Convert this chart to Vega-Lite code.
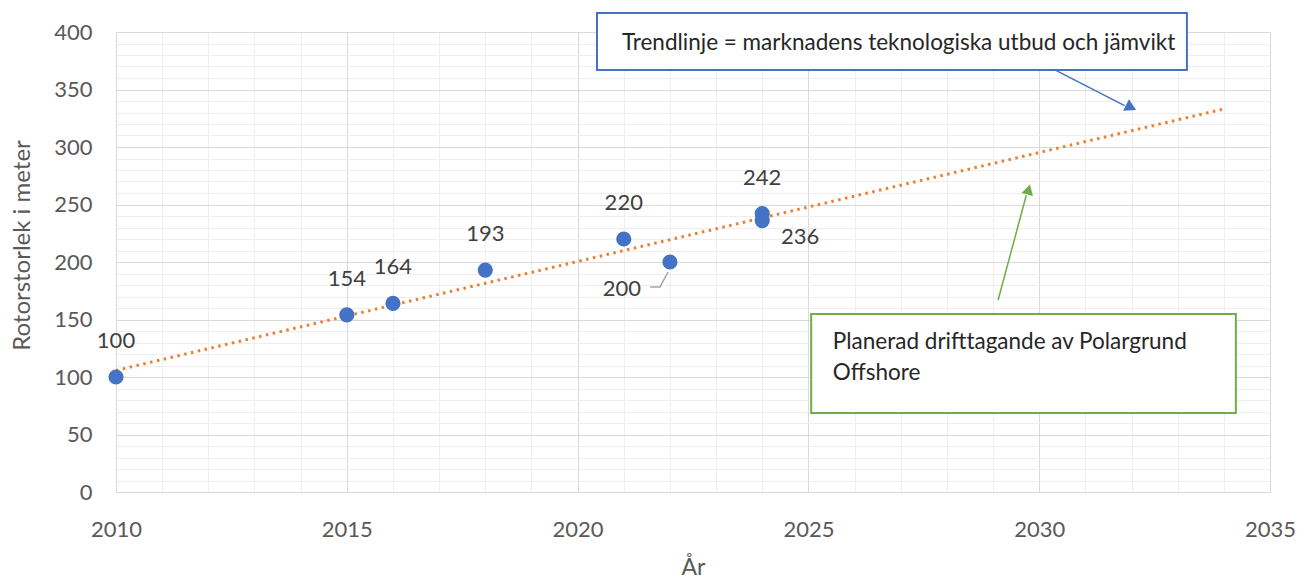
{
  "$schema": "https://vega.github.io/schema/vega-lite/v6.json",
  "width": 1154,
  "height": 460,
  "autosize": {"type": "none"},
  "padding": {"left": 116, "top": 32, "right": 30, "bottom": 90},
  "config": {"view": {"stroke": null}, "font": "Lato", "background": "white"},
  "datasets": {
    "pts": [
      {"year": 2010, "size": 100, "label": "100", "pos": "above"},
      {"year": 2015, "size": 154, "label": "154", "pos": "above"},
      {"year": 2016, "size": 164, "label": "164", "pos": "above"},
      {"year": 2018, "size": 193, "label": "193", "pos": "above"},
      {"year": 2021, "size": 220, "label": "220", "pos": "above"},
      {"year": 2022, "size": 200, "label": "200", "pos": "leftbelow"},
      {"year": 2024, "size": 242, "label": "242", "pos": "above"},
      {"year": 2024, "size": 236, "label": "236", "pos": "rightbelow"}
    ],
    "trend": [
      {"year": 2010, "size": 105.7},
      {"year": 2034, "size": 333.1}
    ],
    "boxes": [
      {"x1": 2020.42, "x2": 2033.2, "y1": 367, "y2": 416.5, "box": "blue"},
      {"x1": 2025.06, "x2": 2034.26, "y1": 68.7, "y2": 154.8, "box": "green"}
    ],
    "lines": [
      {"year": 2030.34, "size": 367, "line": "blue"},
      {"year": 2031.85, "size": 336, "line": "blue"},
      {"year": 2029.11, "size": 167, "line": "green"},
      {"year": 2029.72, "size": 258, "line": "green"},
      {"year": 2021.57, "size": 178.3, "line": "leader"},
      {"year": 2021.785, "size": 178.3, "line": "leader"},
      {"year": 2021.96, "size": 191.3, "line": "leader"}
    ],
    "heads": [
      {"year": 2031.99, "size": 334.3, "head": "blue"},
      {"year": 2029.77, "size": 263, "head": "green"}
    ],
    "notes": [
      {"year": 2020.96, "size": 390.4, "text": "Trendlinje = marknadens teknologiska utbud och jämvikt"},
      {"year": 2025.53, "size": 130.4, "text": "Planerad drifttagande av Polargrund"},
      {"year": 2025.53, "size": 103.5, "text": "Offshore"}
    ]
  },
  "resolve": {"axis": {"x": "independent", "y": "independent"}},
  "layer": [
    {
      "data": {"name": "pts"},
      "mark": {"type": "point", "opacity": 0},
      "encoding": {
        "x": {"field": "year", "type": "quantitative", "scale": {"domain": [2010, 2035], "nice": false, "zero": false},
          "axis": {"orient": "bottom", "values": [2010,2011,2012,2013,2014,2015,2016,2017,2018,2019,2020,2021,2022,2023,2024,2025,2026,2027,2028,2029,2030,2031,2032,2033,2034,2035],
            "grid": true, "gridColor": "#eeeeee", "gridWidth": 1, "labels": false, "ticks": false, "domain": false, "title": null}},
        "y": {"field": "size", "type": "quantitative", "scale": {"domain": [0, 400], "nice": false},
          "axis": {"orient": "left", "values": [0,10,20,30,40,50,60,70,80,90,100,110,120,130,140,150,160,170,180,190,200,210,220,230,240,250,260,270,280,290,300,310,320,330,340,350,360,370,380,390,400],
            "grid": true, "gridColor": "#eeeeee", "gridWidth": 1, "labels": false, "ticks": false, "domain": false, "title": null}}
      }
    },
    {
      "data": {"name": "trend"},
      "mark": {"type": "line", "color": "#ED7D31", "strokeWidth": 3, "strokeDash": [2.5, 4.5]},
      "encoding": {
        "x": {"field": "year", "type": "quantitative",
          "axis": {"orient": "bottom", "values": [2010, 2015, 2020, 2025, 2030, 2035], "format": "d", "grid": true, "gridColor": "#d9d9d9",
            "domainColor": "#d9d9d9", "ticks": false, "labelFlush": false, "labelOverlap": false, "labelPadding": 27, "labelFontSize": 22, "labelColor": "#595959",
            "title": "År", "titleFontSize": 23, "titleFontWeight": "normal", "titleColor": "#595959",
            "titleX": 577, "titleY": 75, "titleBaseline": "middle", "titleAlign": "center"}},
        "y": {"field": "size", "type": "quantitative",
          "axis": {"orient": "left", "values": [0, 50, 100, 150, 200, 250, 300, 350, 400], "grid": true, "gridColor": "#d9d9d9",
            "domainColor": "#d9d9d9", "ticks": false, "labelFlush": false, "labelOverlap": false, "labelPadding": 24, "labelFontSize": 22, "labelColor": "#595959",
            "title": "Rotorstorlek i meter", "titleFontSize": 24, "titleFontWeight": "normal", "titleColor": "#595959",
            "titleX": -94, "titleY": 213, "titleAngle": -90, "titleBaseline": "middle", "titleAlign": "center"}}
      }
    },
    {
      "data": {"name": "boxes"},
      "transform": [{"filter": "datum.box === 'blue'"}],
      "mark": {"type": "rect", "fill": "white", "stroke": "#4472C4", "strokeWidth": 2},
      "encoding": {
        "x": {"field": "x1", "type": "quantitative", "axis": null}, "x2": {"field": "x2"},
        "y": {"field": "y1", "type": "quantitative", "axis": null}, "y2": {"field": "y2"}
      }
    },
    {
      "data": {"name": "boxes"},
      "transform": [{"filter": "datum.box === 'green'"}],
      "mark": {"type": "rect", "fill": "white", "stroke": "#70AD47", "strokeWidth": 2},
      "encoding": {
        "x": {"field": "x1", "type": "quantitative", "axis": null}, "x2": {"field": "x2"},
        "y": {"field": "y1", "type": "quantitative", "axis": null}, "y2": {"field": "y2"}
      }
    },
    {
      "data": {"name": "lines"},
      "mark": {"type": "line", "strokeWidth": 1.5},
      "encoding": {
        "x": {"field": "year", "type": "quantitative", "axis": null},
        "y": {"field": "size", "type": "quantitative", "axis": null},
        "detail": {"field": "line"},
        "color": {"field": "line", "type": "nominal", "legend": null,
          "scale": {"domain": ["blue", "green", "leader"], "range": ["#4472C4", "#70AD47", "#a6a6a6"]}}
      }
    },
    {
      "data": {"name": "heads"},
      "transform": [{"filter": "datum.head === 'blue'"}],
      "mark": {"type": "point", "shape": "triangle-up", "filled": true, "color": "#4472C4", "size": 170, "angle": 117, "opacity": 1},
      "encoding": {
        "x": {"field": "year", "type": "quantitative", "axis": null},
        "y": {"field": "size", "type": "quantitative", "axis": null}
      }
    },
    {
      "data": {"name": "heads"},
      "transform": [{"filter": "datum.head === 'green'"}],
      "mark": {"type": "point", "shape": "triangle-up", "filled": true, "color": "#70AD47", "size": 140, "angle": 15, "opacity": 1},
      "encoding": {
        "x": {"field": "year", "type": "quantitative", "axis": null},
        "y": {"field": "size", "type": "quantitative", "axis": null}
      }
    },
    {
      "data": {"name": "pts"},
      "mark": {"type": "circle", "color": "#4472C4", "size": 230, "opacity": 1},
      "encoding": {
        "x": {"field": "year", "type": "quantitative", "axis": null},
        "y": {"field": "size", "type": "quantitative", "axis": null}
      }
    },
    {
      "data": {"name": "pts"},
      "transform": [{"filter": "datum.pos === 'above'"}],
      "mark": {"type": "text", "fontSize": 22, "color": "#404040", "dy": -36, "baseline": "middle"},
      "encoding": {
        "x": {"field": "year", "type": "quantitative", "axis": null},
        "y": {"field": "size", "type": "quantitative", "axis": null},
        "text": {"field": "label"}
      }
    },
    {
      "data": {"name": "pts"},
      "transform": [{"filter": "datum.pos === 'leftbelow'"}],
      "mark": {"type": "text", "fontSize": 22, "color": "#404040", "dx": -48, "dy": 27, "baseline": "middle"},
      "encoding": {
        "x": {"field": "year", "type": "quantitative", "axis": null},
        "y": {"field": "size", "type": "quantitative", "axis": null},
        "text": {"field": "label"}
      }
    },
    {
      "data": {"name": "pts"},
      "transform": [{"filter": "datum.pos === 'rightbelow'"}],
      "mark": {"type": "text", "fontSize": 22, "color": "#404040", "dx": 38, "dy": 16, "baseline": "middle"},
      "encoding": {
        "x": {"field": "year", "type": "quantitative", "axis": null},
        "y": {"field": "size", "type": "quantitative", "axis": null},
        "text": {"field": "label"}
      }
    },
    {
      "data": {"name": "notes"},
      "mark": {"type": "text", "fontSize": 22.5, "color": "#262626", "align": "left", "baseline": "middle"},
      "encoding": {
        "x": {"field": "year", "type": "quantitative", "axis": null},
        "y": {"field": "size", "type": "quantitative", "axis": null},
        "text": {"field": "text"}
      }
    }
  ]
}
